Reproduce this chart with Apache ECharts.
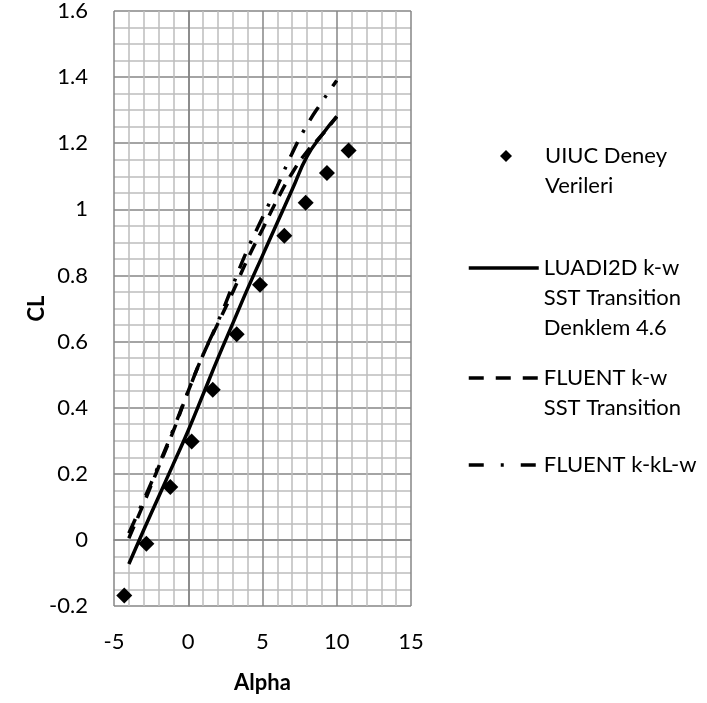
<!DOCTYPE html>
<html>
<head>
<meta charset="utf-8">
<script src="https://cdn.jsdelivr.net/npm/echarts@6/dist/echarts.min.js"></script>
<style>
  html, body { margin: 0; padding: 0; background: #fff; }
  #main { width: 707px; height: 703px; }
</style>
</head>
<body>
<div id="main"></div>
<script>
// deney verileri (UIUC)
var uiucAlpha = [-4.31, -2.82, -1.21, 0.23, 1.65, 3.26, 4.83, 6.47, 7.91, 9.34, 10.80];
var uiucCl = [-0.168, -0.012, 0.160, 0.298, 0.454, 0.622, 0.772, 0.920, 1.020, 1.110, 1.178];

// hesaplanan egriler
var alphaGrid = [-4, -3, -2, -1, 0, 1, 2, 3, 4, 5, 6, 7, 8, 9, 10];
var clLuadi = [-0.073, 0.03, 0.13, 0.23, 0.331, 0.44, 0.55, 0.655, 0.76, 0.86, 0.96, 1.06, 1.16, 1.225, 1.281];
var clFluentSst = [0.005, 0.11, 0.22, 0.33, 0.45, 0.56, 0.655, 0.75, 0.85, 0.94, 1.03, 1.11, 1.175, 1.225, 1.28];
var clFluentKkl = [0.02, 0.12, 0.225, 0.335, 0.45, 0.56, 0.66, 0.77, 0.88, 0.975, 1.07, 1.17, 1.255, 1.325, 1.39];

var xTicks = { min: -5, max: 15, step: 5 };
var yTicks = { min: -0.2, max: 1.6, step: 0.2 };

var names = [
    'UIUC Deney\nVerileri',
    'LUADI2D k-w\nSST Transition\nDenklem 4.6',
    'FLUENT k-w\nSST Transition',
    'FLUENT k-kL-w'
];

function pairs(xs, ys) {
    var out = [];
    for (var i = 0; i < xs.length; i++) out.push([xs[i], ys[i]]);
    return out;
}

var font = 'Lato, "Open Sans", sans-serif';
var lh = 30;

// ilk satir isaretle ayni hizada olsun diye basa bos satir ekleniyor
function legendFor(name, left, top, w, h, padLeft, dash) {
    var lines = name.split('\n').length;
    var pre = '';
    for (var i = 1; i < lines; i++) pre += ' \n';
    return {
        data: [name],
        left: left,
        top: top,
        itemWidth: w,
        itemHeight: h,
        selectedMode: false,
        itemStyle: { opacity: 0 },
        lineStyle: { width: 3.5, type: dash || 'solid' },
        formatter: function (n) { return pre + n; },
        textStyle: {
            fontFamily: font,
            fontSize: 22,
            color: '#000',
            lineHeight: lh,
            padding: [0, 0, 0, padLeft]
        }
    };
}

var myChart = echarts.init(document.getElementById('main'));

var lg0 = legendFor(names[0], 495, 106, 12, 12, 28);
lg0.itemStyle = { opacity: 1, color: '#000' };

var option = {
    animation: false,
    backgroundColor: '#fff',
    grid: {
        left: 114,
        right: 296,
        top: 10,
        bottom: 97
    },
    legend: [
        lg0,
        legendFor(names[1], 462, 188, 70, 14, 0),
        legendFor(names[2], 462, 328, 70, 14, 0, [15, 12]),
        legendFor(names[3], 462, 445, 70, 14, 0, [15, 17, 3, 17])
    ],
    xAxis: {
        type: 'value',
        min: xTicks.min,
        max: xTicks.max,
        interval: xTicks.step,
        name: 'Alpha',
        nameLocation: 'middle',
        nameGap: 66,
        nameTextStyle: { fontFamily: font, fontSize: 22, fontWeight: 'bold', color: '#000' },
        axisLine: { show: true, lineStyle: { color: '#868686', width: 1.5 } },
        axisTick: { show: false },
        axisLabel: { margin: 25, fontFamily: font, fontSize: 22, color: '#000' },
        splitLine: { show: true, lineStyle: { color: '#868686', width: 1.5 } },
        minorTick: { show: false, splitNumber: 5 },
        minorSplitLine: { show: true, lineStyle: { color: '#bdbdbd', width: 1.5 } }
    },
    yAxis: {
        type: 'value',
        min: yTicks.min,
        max: yTicks.max,
        interval: yTicks.step,
        name: 'CL',
        nameLocation: 'middle',
        nameGap: 66,
        nameMoveOverlap: false,
        nameTextStyle: { fontFamily: font, fontSize: 22, fontWeight: 'bold', color: '#000' },
        axisLine: { show: true, lineStyle: { color: '#868686', width: 1.5 } },
        axisTick: { show: false },
        axisLabel: { margin: 26, fontFamily: font, fontSize: 22, color: '#000' },
        splitLine: { show: true, lineStyle: { color: '#868686', width: 1.5 } },
        minorTick: { show: false, splitNumber: 4 },
        minorSplitLine: { show: true, lineStyle: { color: '#bdbdbd', width: 1.5 } }
    },
    series: [
        {
            name: names[0],
            type: 'scatter',
            symbol: 'diamond',
            symbolSize: 16,
            itemStyle: { color: '#000', opacity: 1 },
            data: pairs(uiucAlpha, uiucCl)
        },
        {
            name: names[1],
            type: 'line',
            smooth: true,
            symbol: 'none',
            lineStyle: { color: '#000', width: 3.5 },
            itemStyle: { color: '#000' },
            data: pairs(alphaGrid, clLuadi)
        },
        {
            name: names[2],
            type: 'line',
            smooth: true,
            symbol: 'none',
            lineStyle: { color: '#000', width: 3.5, type: [13, 9] },
            itemStyle: { color: '#000' },
            data: pairs(alphaGrid, clFluentSst)
        },
        {
            name: names[3],
            type: 'line',
            smooth: true,
            symbol: 'none',
            lineStyle: { color: '#000', width: 3.5, type: [16, 11, 3, 11] },
            itemStyle: { color: '#000' },
            data: pairs(alphaGrid, clFluentKkl)
        }
    ]
};
myChart.setOption(option);
</script>
</body>
</html>
